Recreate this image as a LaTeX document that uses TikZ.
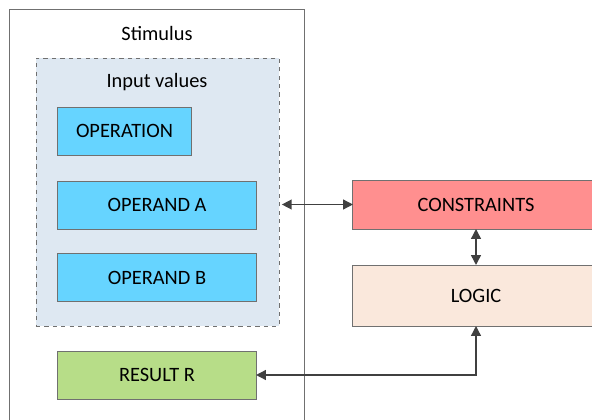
\documentclass[tikz,border=0pt]{standalone}
\usepackage{fontspec}
\setmainfont{Carlito}
\definecolor{framegray}{RGB}{112,112,112}
\definecolor{arrowgray}{RGB}{64,64,64}
\definecolor{inputbg}{RGB}{222,232,242}
\definecolor{operandblue}{RGB}{102,212,255}
\definecolor{constraintred}{RGB}{255,143,143}
\definecolor{logicbeige}{RGB}{250,232,220}
\definecolor{resultgreen}{RGB}{183,221,136}
\usetikzlibrary{arrows.meta, positioning}

\begin{document}
\begin{tikzpicture}[
  x=0.025cm, y=-0.025cm,
  every node/.style={font=\fontsize{14.5}{16}\selectfont, text=black},
  block/.style={rectangle, draw=framegray, line width=0.7pt, inner sep=0pt, outer sep=0pt, minimum height=1.2cm},
  group/.style={rectangle, draw=framegray, line width=0.6pt, inner sep=0pt, outer sep=0pt},
  caption/.style={inner sep=0pt},
  edge/.style={{Triangle[length=7pt,width=7pt]}-{Triangle[length=7pt,width=7pt]}, line width=1pt, arrowgray}
]
  \useasboundingbox (0,0) rectangle (592,420);
  \clip (0,0) rectangle (592,420);

  % Stimulus frame
  \node[group, fill=white, minimum width=7.375cm, minimum height=10.775cm] (stim) at (156.5,224.5) {};
  \node[caption] (stimlbl) at (157,33) {Stimulus};

  % Input values
  \node[group, dashed, fill=inputbg, minimum width=6.075cm, minimum height=6.7cm] (inv) at (157.5,192) {};
  \node[caption] (invlbl) at (157,82) {Input values};

  \node[block, fill=operandblue, minimum width=3.325cm] (op) at (124.5,131) {OPERATION};
  \node[block, fill=operandblue, minimum width=4.95cm] (opa) at (157,205) {OPERAND A};
  \node[block, fill=operandblue, minimum width=4.95cm] (opb) at (157,277.5) {OPERAND B};

  % Result
  \node[block, fill=resultgreen, minimum width=4.95cm] (res) at (157,375) {RESULT R};

  % Right side
  \node[block, fill=constraintred, minimum width=6.15cm, minimum height=1.225cm] (cons) at (476,204.5) {CONSTRAINTS};
  \node[block, fill=logicbeige, minimum width=6.15cm, minimum height=1.525cm] (logic) at (476,295.5) {LOGIC};

  % Edges
  \draw[edge] ([xshift=2pt]inv.east |- cons.west) -- (cons.west);
  \draw[edge] (cons.south) -- (logic.north);
  \draw[edge] (logic.south) |- (res.east);
\end{tikzpicture}
\end{document}
